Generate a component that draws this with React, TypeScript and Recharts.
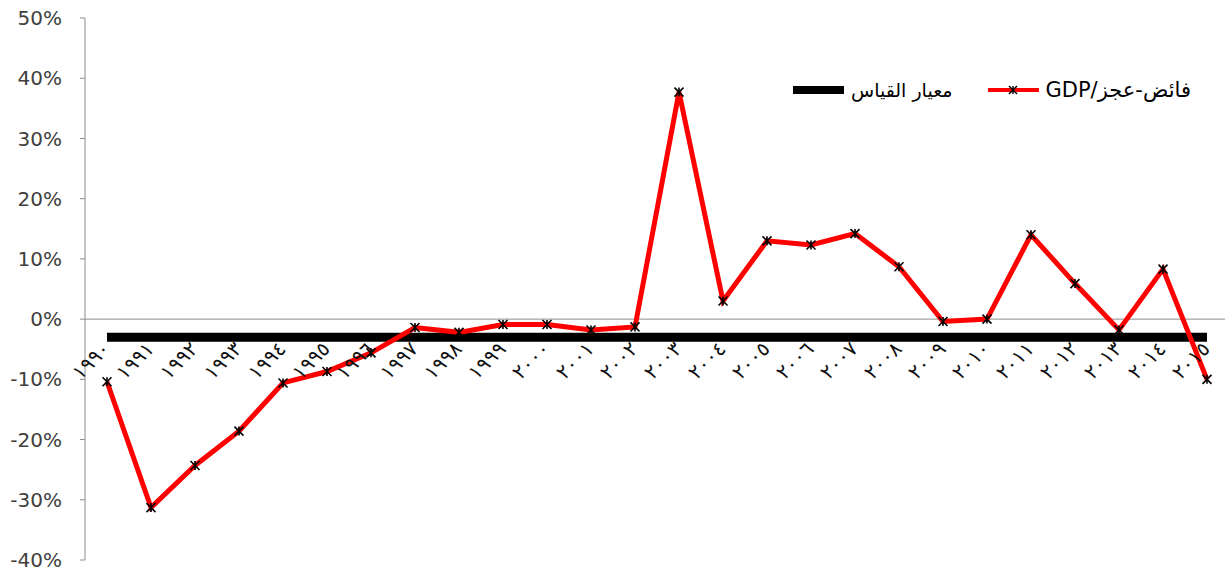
import React from 'react';
import { LineChart, Line, XAxis, YAxis, ReferenceLine } from 'recharts';

const years = [
  '١٩٩٠', '١٩٩١', '١٩٩٢', '١٩٩٣', '١٩٩٤', '١٩٩٥', '١٩٩٦', '١٩٩٧', '١٩٩٨', '١٩٩٩',
  '٢٠٠٠', '٢٠٠١', '٢٠٠٢', '٢٠٠٣', '٢٠٠٤', '٢٠٠٥', '٢٠٠٦', '٢٠٠٧', '٢٠٠٨', '٢٠٠٩',
  '٢٠١٠', '٢٠١١', '٢٠١٢', '٢٠١٣', '٢٠١٤', '٢٠١٥',
];

// surplus/deficit as % of GDP
const balanceGdp = [
  -10.4, -31.3, -24.3, -18.6, -10.6, -8.7, -5.6, -1.4, -2.2, -0.9,
  -0.9, -1.8, -1.3, 37.7, 3.0, 13.0, 12.3, 14.2, 8.7, -0.4,
  0.0, 14.0, 5.9, -1.8, 8.3, -10.0,
];

// benchmark criterion
const benchmark = [
  -3, -3, -3, -3, -3, -3, -3, -3, -3, -3,
  -3, -3, -3, -3, -3, -3, -3, -3, -3, -3,
  -3, -3, -3, -3, -3, -3,
];

const yTicks = [-40, -30, -20, -10, 0, 10, 20, 30, 40, 50];

const balanceName = 'فائض-عجز/GDP';
const benchmarkName = 'معيار القياس';

const rows = years.map((year, i) => ({
  year,
  balance: balanceGdp[i],
  benchmark: benchmark[i],
}));

const FONT = '"DejaVu Sans", "Liberation Sans", sans-serif';
const PLOT_TOP = 18;
const PLOT_H = 542;
const Y_MIN = -40;
const Y_MAX = 50;
const zeroY = PLOT_TOP + (PLOT_H * Y_MAX) / (Y_MAX - Y_MIN);

const YearTick = (props: any) => {
  const { x, payload } = props;
  const ax = x + 4;
  const ay = zeroY + 31;
  return (
    <text
      x={ax}
      y={ay}
      transform={`rotate(-45 ${ax} ${ay})`}
      textAnchor="end"
      fontSize={20}
      letterSpacing={4}
      fill="#111"
      fontFamily={FONT}
    >
      {payload.value}
    </text>
  );
};

const StarDot = (props: any) => {
  const { cx, cy, index } = props;
  if (cx == null || cy == null) return null;
  const s = 4.5;
  return (
    <g key={`dot-${index}`} stroke="#000" strokeWidth={1.6}>
      <line x1={cx - s} y1={cy - s} x2={cx + s} y2={cy + s} />
      <line x1={cx - s} y1={cy + s} x2={cx + s} y2={cy - s} />
      <line x1={cx} y1={cy - s} x2={cx} y2={cy + s} />
    </g>
  );
};

const LegendBox = () => (
  <div
    style={{
      position: 'absolute',
      top: 78,
      left: 793,
      display: 'flex',
      alignItems: 'center',
      fontFamily: FONT,
      fontSize: 19,
      color: '#000',
      whiteSpace: 'nowrap',
    }}
  >
    <span style={{ display: 'inline-block', width: 51, height: 8, background: '#000' }} />
    <span style={{ marginLeft: 7, direction: 'rtl' }}>{benchmarkName}</span>
    <svg width={51} height={14} style={{ marginLeft: 36 }}>
      <line x1={0} y1={7} x2={51} y2={7} stroke="#ff0000" strokeWidth={4} />
      <g stroke="#000" strokeWidth={1.4}>
        <line x1={21} y1={3} x2={29} y2={11} />
        <line x1={21} y1={11} x2={29} y2={3} />
        <line x1={25} y1={3} x2={25} y2={11} />
      </g>
    </svg>
    <span style={{ marginLeft: 6, direction: 'rtl', unicodeBidi: 'embed', fontSize: 21 }}>{balanceName}</span>
  </div>
);

export default function App() {
  return (
    <div
      style={{
        position: 'absolute',
        left: 0,
        top: 0,
        width: 1225,
        height: 572,
        overflow: 'hidden',
        background: '#fff',
      }}
    >
      <LineChart
        width={1240}
        height={572}
        data={rows}
        margin={{ top: PLOT_TOP, right: 11, bottom: 0, left: 0 }}
        style={{ fontFamily: FONT }}
      >
        <XAxis
          dataKey="year"
          interval={0}
          height={12}
          axisLine={false}
          tickLine={false}
          padding={{ left: 22, right: 22 }}
          tick={<YearTick />}
        />
        <YAxis
          domain={[Y_MIN, Y_MAX]}
          ticks={yTicks}
          width={85}
          tickFormatter={(v: number) => `${v}%`}
          axisLine={{ stroke: '#8c8c8c' }}
          tickLine={{ stroke: '#8c8c8c' }}
          tickSize={5}
          tickMargin={18}
          tick={{ fill: '#404040', fontSize: 20, fontFamily: FONT }}
        />
        <ReferenceLine y={0} stroke="#8c8c8c" strokeWidth={1} />
        <Line
          dataKey="benchmark"
          name={benchmarkName}
          type="linear"
          stroke="#000"
          strokeWidth={9}
          dot={false}
          activeDot={false}
          isAnimationActive={false}
        />
        <Line
          dataKey="balance"
          name={balanceName}
          type="linear"
          stroke="#ff0000"
          strokeWidth={5}
          dot={<StarDot />}
          activeDot={false}
          isAnimationActive={false}
        />
      </LineChart>
      <LegendBox />
    </div>
  );
}
